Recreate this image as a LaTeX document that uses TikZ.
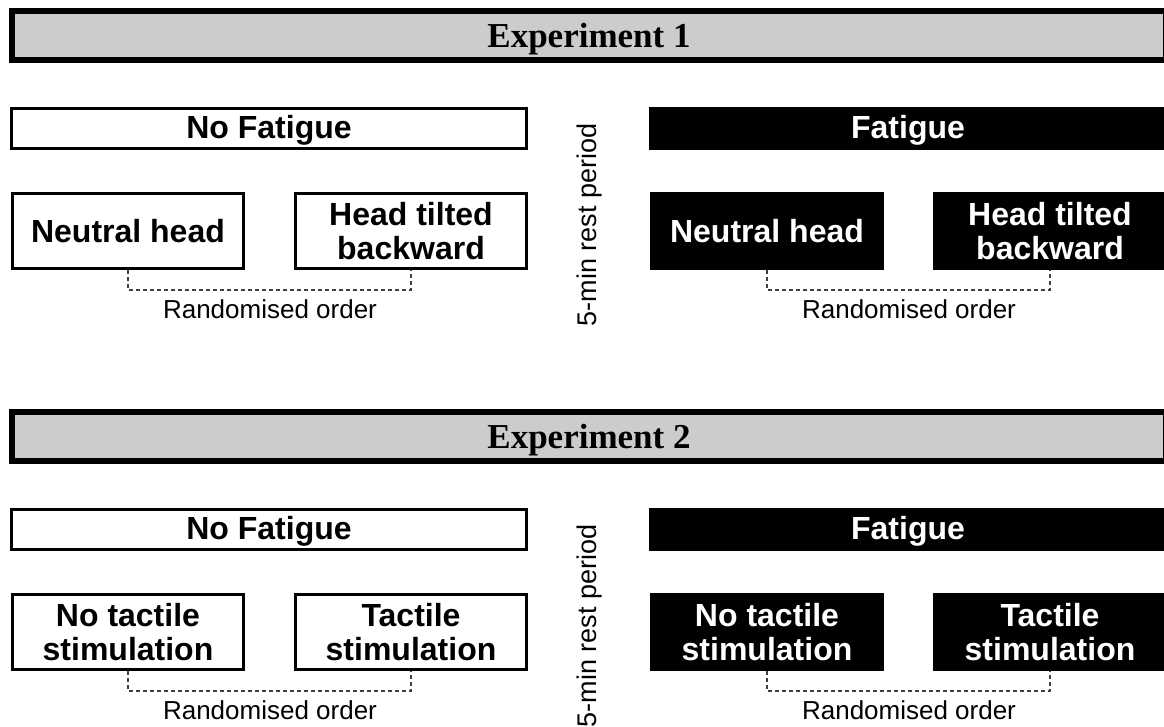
\documentclass[tikz,border=0pt]{standalone}
\usepackage{fontspec}
\setmainfont{Liberation Sans}
\newfontfamily\serifhead{Liberation Serif}
\begin{document}
\begin{tikzpicture}[x=1pt,y=-1pt,
  hdr/.style={draw=black, fill=black!20, line width=6pt, minimum width=1154pt, minimum height=49pt, inner sep=0pt, text depth=0pt, font=\serifhead\bfseries\fontsize{35}{40}\selectfont},
  nfbox/.style={draw=black, fill=white, line width=3pt, minimum width=515pt, minimum height=40pt, inner sep=0pt, text depth=3pt, font=\bfseries\fontsize{32}{34}\selectfont},
  fatbox/.style={nfbox, fill=black, text=white},
  cbox/.style={draw=black, fill=white, line width=3pt, minimum width=231pt, minimum height=75pt, inner sep=0pt, align=center, font=\bfseries\fontsize{32}{34.5}\selectfont},
  catbox/.style={cbox, fill=black, text=white},
  dashline/.style={black!75, line width=1.2pt, dash pattern=on 4pt off 3pt},
  note/.style={font=\fontsize{26}{30}\selectfont, inner sep=0pt},
  rest/.style={font=\fontsize{27}{30}\selectfont, inner sep=0pt, rotate=90},
]
\useasboundingbox (0,0) rectangle (1164,726);

% ---------------- Experiment 1 ----------------
\node[hdr] (h1) at (589,35.5) {Experiment 1};
\node[nfbox] (nf1) at (269,128.5) {No Fatigue};
\node[fatbox] (f1) at (908,128.5) {Fatigue};
\node[cbox] (a1) at (128,231) {Neutral head};
\node[cbox] (b1) at (411,231) {Head tilted\\backward};
\node[catbox] (c1) at (767,231) {Neutral head};
\node[catbox] (d1) at (1050,231) {Head tilted\\backward};
\draw[dashline] (a1.south) -- ++(0,20) -| (b1.south);
\draw[dashline] (c1.south) -- ++(0,20) -| (d1.south);
\node[note] (r1) at (270,309) {Randomised order};
\node[note] (s1) at (909,309) {Randomised order};
\node[rest] (p1) at (590,225) {5-min rest period};

% ---------------- Experiment 2 ----------------
\node[hdr] (h2) at (589,436.5) {Experiment 2};
\node[nfbox] (nf2) at (269,529.5) {No Fatigue};
\node[fatbox] (f2) at (908,529.5) {Fatigue};
\node[cbox] (a2) at (128,632) {No tactile\\stimulation};
\node[cbox] (b2) at (411,632) {Tactile\\stimulation};
\node[catbox] (c2) at (767,632) {No tactile\\stimulation};
\node[catbox] (d2) at (1050,632) {Tactile\\stimulation};
\draw[dashline] (a2.south) -- ++(0,20) -| (b2.south);
\draw[dashline] (c2.south) -- ++(0,20) -| (d2.south);
\node[note] (r2) at (270,710) {Randomised order};
\node[note] (s2) at (909,710) {Randomised order};
\node[rest] (p2) at (590,626) {5-min rest period};
\end{tikzpicture}
\end{document}
